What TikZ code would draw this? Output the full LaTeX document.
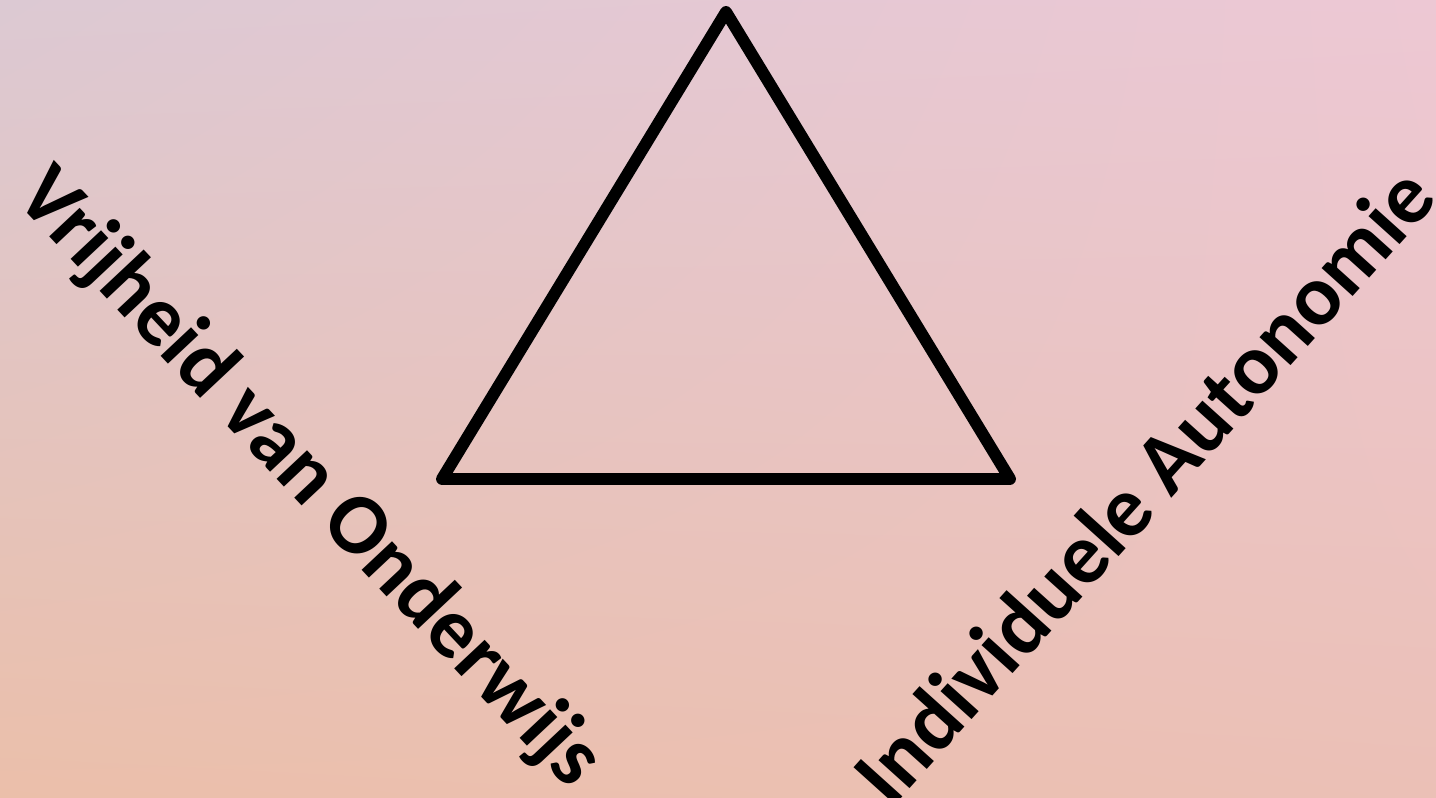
\documentclass[tikz,border=0pt]{standalone}
\usepackage{fontspec}
\setmainfont{Carlito}
\usepackage{xcolor}
\usepackage{tikz}
\usetikzlibrary{shadings}

\definecolor{bgtl}{HTML}{DCC9D3}
\definecolor{bgtr}{HTML}{EDC8D4}
\definecolor{bgbl}{HTML}{EBBFAA}
\definecolor{bgbr}{HTML}{EBC0B6}

\begin{document}
\begin{tikzpicture}[
  label/.style={font=\bfseries\fontsize{24.5}{29}\selectfont, inner sep=0pt},
  edge/.style={line width=3.4pt, line join=round, line cap=round}
]
% background
\shade[upper left=bgtl, upper right=bgtr, lower left=bgbl, lower right=bgbr]
  (0,0) rectangle (14.36,7.97);
\useasboundingbox (0,0) rectangle (14.36,7.97);

\coordinate (top)   at (7.26,7.85);
\coordinate (left)  at (4.42,3.18);
\coordinate (right) at (10.10,3.18);

\draw[edge,black!25,opacity=0.5,xshift=0.3mm,yshift=-0.3mm] (top) -- (left) -- (right) -- cycle;
\draw[edge] (top) -- (left) -- (right) -- cycle;

\node[label,rotate=-46.8] (vrij) at (3.08,3.18) {Vrijheid van Onderwijs};
\node[label,rotate=48]    (auto) at (11.43,3.12) {Individuele Autonomie};
\end{tikzpicture}
\end{document}
